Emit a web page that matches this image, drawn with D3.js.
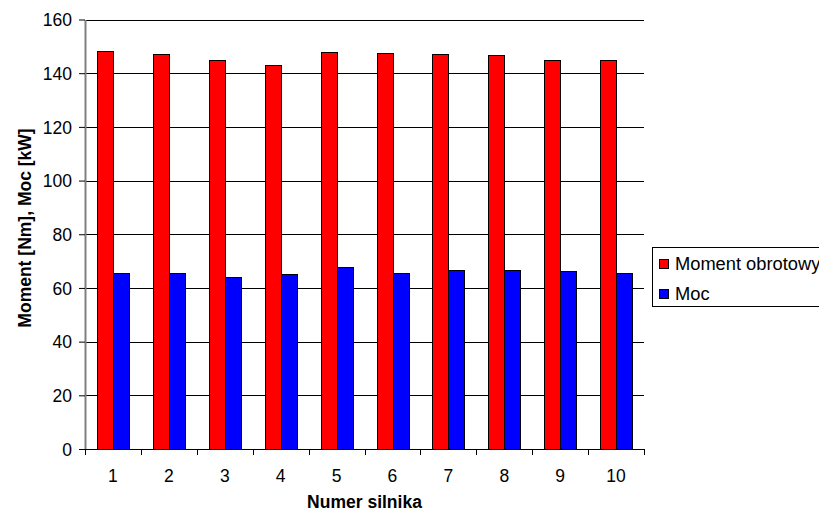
<!DOCTYPE html>
<html>
<head>
<meta charset="utf-8">
<script src="https://cdn.jsdelivr.net/npm/d3@7"></script>
<style>
  body { margin: 0; background: #fff; }
  svg { display: block; font-family: "Liberation Sans", Arial, sans-serif; }
</style>
</head>
<body>
<script>
// engine numbers and measured values
var engines = ["1", "2", "3", "4", "5", "6", "7", "8", "9", "10"];
var torque = [148.3, 147.2, 145, 143, 147.8, 147.7, 147.2, 146.7, 145, 145];
var power = [65.7, 65.7, 64.1, 65.3, 67.8, 65.7, 66.7, 66.7, 66.2, 65.7];
var seriesNames = ["Moment obrotowy", "Moc"];
var seriesColors = ["#ff0000", "#0000ff"];
var yTicks = [0, 20, 40, 60, 80, 100, 120, 140, 160];

var width = 819, height = 515;
var plotLeft = 85, plotRight = 644, plotTop = 19.5, plotBottom = 449;
var fontSize = "17.5px";

var svg = d3.select("body").append("svg")
    .attr("width", width)
    .attr("height", height);

var x = d3.scaleBand()
    .domain(engines)
    .range([plotLeft, plotRight])
    .paddingInner(0.43)
    .paddingOuter(0.215);

var sub = d3.scaleBand()
    .domain([0, 1])
    .range([0, x.bandwidth()]);

var y = d3.scaleLinear()
    .domain([0, 160])
    .range([plotBottom, plotTop]);

// gridlines
svg.append("g")
    .selectAll("line")
    .data(yTicks.filter(function(d) { return d > 0; }))
    .enter().append("line")
      .attr("x1", plotLeft)
      .attr("x2", plotRight)
      .attr("y1", function(d) { return Math.round(y(d)) + 0.5; })
      .attr("y2", function(d) { return Math.round(y(d)) + 0.5; })
      .attr("stroke", "#000")
      .attr("stroke-width", 1);

// bars
var rows = engines.map(function(e, i) { return [torque[i], power[i]]; });
var groups = svg.append("g")
    .selectAll("g")
    .data(rows)
    .enter().append("g")
      .attr("transform", function(d, i) { return "translate(" + Math.round(x(engines[i])) + ",0)"; });

groups.selectAll("rect")
    .data(function(d) { return d; })
    .enter().append("rect")
      .attr("x", function(d, j) { return Math.round(sub(j)) + 0.5; })
      .attr("y", function(d) { return Math.round(y(d)) + 0.5; })
      .attr("width", Math.round(sub.bandwidth()))
      .attr("height", function(d) { return plotBottom - Math.round(y(d)); })
      .attr("fill", function(d, j) { return seriesColors[j]; })
      .attr("stroke", "#000")
      .attr("stroke-width", 1);

// y axis
var yAxis = svg.append("g")
    .attr("transform", "translate(" + plotLeft + ",0)")
    .call(d3.axisLeft(y).tickValues(yTicks).tickSize(6).tickPadding(7).tickSizeOuter(0));
yAxis.select(".domain").attr("stroke", "#808080").attr("stroke-width", 2);
yAxis.selectAll(".tick line").attr("stroke", "#000");
yAxis.selectAll(".tick text")
    .attr("font-size", fontSize)
    .attr("font-family", "'Liberation Sans', Arial, sans-serif")
    .attr("fill", "#000")
    .attr("dy", "0.36em");

// x axis: ticks at category boundaries
var boundaries = engines.map(function(e) { return x(e) - x.step() * x.paddingInner() / 2; });
boundaries.push(plotRight);
var xg = svg.append("g");
xg.append("line")
    .attr("x1", plotLeft).attr("x2", plotRight)
    .attr("y1", plotBottom + 0.5).attr("y2", plotBottom + 0.5)
    .attr("stroke", "#000");
xg.selectAll(".tk")
    .data(boundaries)
    .enter().append("line")
      .attr("x1", function(d) { return Math.round(d) + 0.5; })
      .attr("x2", function(d) { return Math.round(d) + 0.5; })
      .attr("y1", plotBottom)
      .attr("y2", plotBottom + 6)
      .attr("stroke", "#000");
xg.selectAll("text")
    .data(engines)
    .enter().append("text")
      .attr("x", function(d) { return x(d) + x.bandwidth() / 2; })
      .attr("y", 482)
      .attr("text-anchor", "middle")
      .attr("font-size", fontSize)
      .text(function(d) { return d; });

// axis titles
svg.append("text")
    .attr("x", (plotLeft + plotRight) / 2)
    .attr("y", 508)
    .attr("text-anchor", "middle")
    .attr("font-size", fontSize)
    .attr("font-weight", "bold")
    .text("Numer silnika");

svg.append("text")
    .attr("transform", "translate(31,228) rotate(-90)")
    .attr("text-anchor", "middle")
    .attr("font-size", fontSize)
    .attr("font-weight", "bold")
    .text("Moment [Nm], Moc [kW]");

// legend (runs off the right edge, as in the original)
var legend = svg.append("g");
legend.append("rect")
    .attr("x", 652.5).attr("y", 247.5)
    .attr("width", 200).attr("height", 59)
    .attr("fill", "#fff")
    .attr("stroke", "#000");
var items = legend.selectAll(".item")
    .data(seriesNames)
    .enter().append("g")
      .attr("transform", function(d, i) { return "translate(0," + (i * 30) + ")"; });
items.append("rect")
    .attr("x", 659.5).attr("y", 259.5)
    .attr("width", 9).attr("height", 9)
    .attr("fill", function(d, i) { return seriesColors[i]; })
    .attr("stroke", "#000");
items.append("text")
    .attr("x", 675)
    .attr("y", 270)
    .attr("font-size", "18.3px")
    .text(function(d) { return d; });
</script>
</body>
</html>
